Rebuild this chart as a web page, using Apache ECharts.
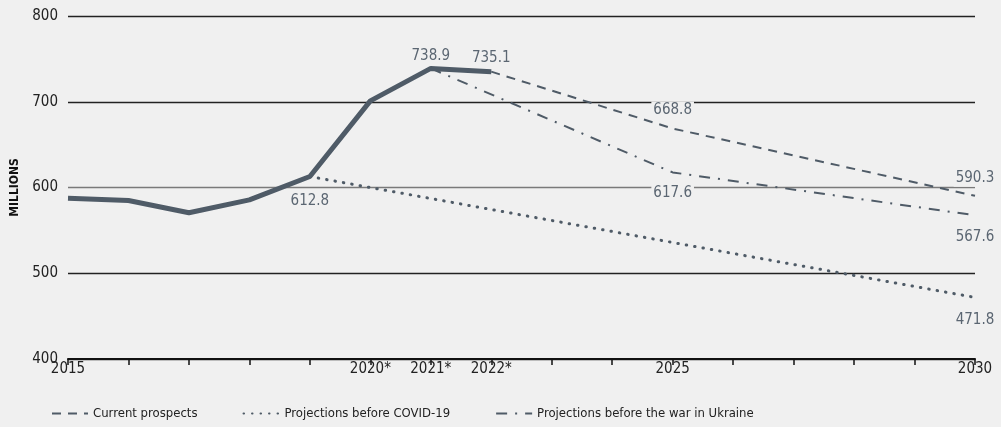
<!DOCTYPE html>
<html lang="en">
<head>
  <meta charset="UTF-8">
  <title>Millions</title>
  <script src="https://cdn.jsdelivr.net/npm/echarts@6/dist/echarts.min.js"></script>
  <style>
    html, body { margin: 0; padding: 0; background: #f0f0f0; }
  </style>
</head>
<body>
  <div id="chart" style="width: 1001px; height: 427px;"></div>
<script>
// data
const histYears = [2015, 2016, 2017, 2018, 2019, 2020, 2021, 2022];
const histValues = [587.4, 584.8, 570.5, 585.6, 612.8, 701, 738.9, 735.1];
const currentYears = [2022, 2025, 2030];
const currentValues = [735.1, 668.8, 590.3];
const covidYears = [2019, 2030];
const covidValues = [612.8, 471.8];
const ukraineYears = [2021, 2025, 2030];
const ukraineValues = [738.9, 617.6, 567.6];
const tickLabels = {2015: '2015', 2020: '2020*', 2021: '2021*', 2022: '2022*', 2025: '2025', 2030: '2030'};

const ink = '#4f5b67';
const bg = '#f0f0f0';
const font = '"DejaVu Sans Condensed", "Roboto", sans-serif';

// label placement per point: [position, distance]
const labelAt = {
  'hist-2019': ['bottom', 16], 'hist-2021': ['top', 4], 'hist-2022': ['top', 5],
  'cur-2025': ['top', 10], 'cur-2030': ['top', 9],
  'cov-2030': ['bottom', 14],
  'ukr-2025': ['bottom', 12], 'ukr-2030': ['bottom', 13]
};

function pts(key, xs, ys) {
  return xs.map((x, i) => {
    const item = { value: [x, ys[i]] };
    const l = labelAt[key + '-' + x];
    if (l) {
      item.label = {
        show: true, position: l[0], distance: l[1],
        formatter: ys[i].toFixed(1),
        color: '#5b6672', fontSize: 15, fontFamily: font,
        backgroundColor: bg, padding: [1, 2]
      };
    }
    return item;
  });
}

function lineSeries(name, key, xs, ys, style, z) {
  return {
    name: name, type: 'line', symbol: 'circle', symbolSize: 0.1, showSymbol: true, z: z,
    data: pts(key, xs, ys),
    lineStyle: Object.assign({ color: ink }, style),
    itemStyle: { color: ink }
  };
}

const chart = echarts.init(document.getElementById('chart'));
chart.setOption({
  backgroundColor: bg,
  animation: false,
  grid: { left: 68, right: 26, top: 16, bottom: 68, outerBoundsMode: 'none', containLabel: false },
  legend: {
    left: 46, top: 402, itemWidth: 36, itemHeight: 10, itemGap: 45,
    itemStyle: { opacity: 0 },
    textStyle: { fontFamily: font, fontSize: 13, color: '#222' },
    data: ['Current prospects', 'Projections before COVID-19', 'Projections before the war in Ukraine']
  },
  xAxis: {
    type: 'value', min: 2015, max: 2030, interval: 1,
    axisLine: { lineStyle: { color: '#111', width: 2 } },
    axisTick: { show: true, length: 6, lineStyle: { color: '#111', width: 1.5 } },
    splitLine: { show: false },
    axisLabel: {
      fontFamily: font, fontSize: 15, color: '#222', margin: 3,
      formatter: v => tickLabels[v] || ''
    }
  },
  yAxis: {
    type: 'value', min: 400, max: 800, interval: 100,
    name: 'MILLIONS', nameLocation: 'middle', nameGap: 45, nameRotate: 90,
    nameTextStyle: { fontFamily: font, fontSize: 12, fontWeight: 'bold', color: '#111' },
    axisLine: { show: false }, axisTick: { show: false },
    axisLabel: { fontFamily: font, fontSize: 15, color: '#222', margin: 10 },
    splitLine: { lineStyle: { color: ['#222', '#222', '#7a7a7a', '#222', '#222'], width: 1.3 } }
  },
  series: [
    lineSeries('Current prospects', 'cur', currentYears, currentValues, { width: 2, type: [9, 7] }, 3),
    lineSeries('Projections before COVID-19', 'cov', covidYears, covidValues, { width: 3, type: [0.5, 8], cap: 'round' }, 3),
    lineSeries('Projections before the war in Ukraine', 'ukr', ukraineYears, ukraineValues, { width: 2, type: [11, 8, 2, 8] }, 3),
    lineSeries('Actual', 'hist', histYears, histValues, { width: 5 }, 4)
  ]
});
</script>
</body>
</html>
